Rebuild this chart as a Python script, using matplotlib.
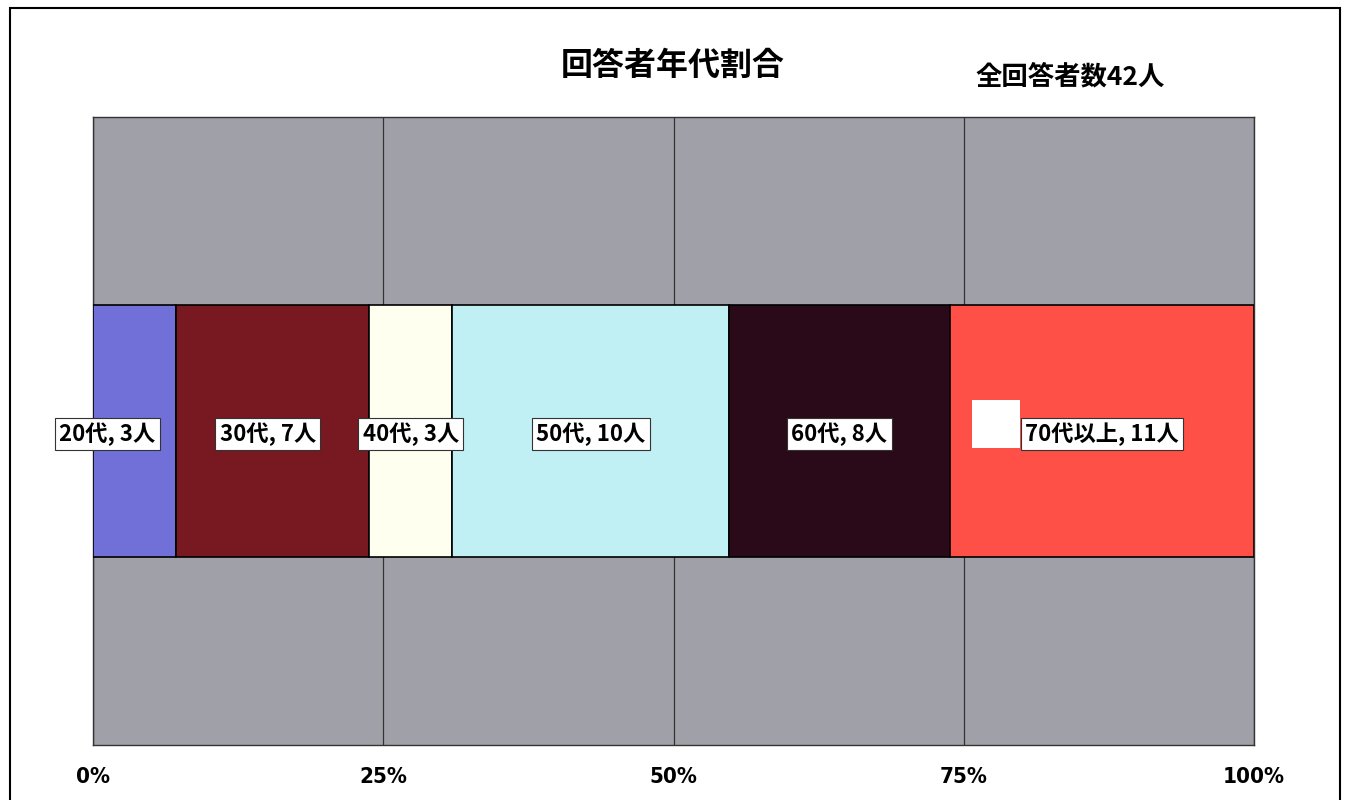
import matplotlib.pyplot as plt
from matplotlib.patches import Rectangle
from matplotlib.ticker import FuncFormatter

plt.rcParams['font.family'] = ['Noto Sans CJK JP', 'DejaVu Sans']

# data
ages = ['20代', '30代', '40代', '50代', '60代', '70代以上']
counts = [3, 7, 3, 10, 8, 11]
colors = ['#7070d8', '#781820', '#fffff0', '#c0f0f4', '#2a0a18', '#ff5048']
label_shift = [-27, -5, 0, 0, 0, 0]  # label x-offset in pixels
ticks = [0, 25, 50, 75, 100]
total = sum(counts)

fig = plt.figure(figsize=(13.46, 8), dpi=100)
ax = fig.add_axes([93 / 1346, 1 - 745 / 800, 1161 / 1346, 628 / 800])
ax.set_facecolor('#a0a0a8')

left = 0
for age, n, c, dx in zip(ages, counts, colors, label_shift):
    w = n / total * 100
    ax.barh(0, w, left=left, height=0.4, color=c, edgecolor='black', linewidth=1.2, zorder=3)
    ax.annotate(f'{age}, {n}人', (left + w / 2, 0), xytext=(dx, -3), textcoords='offset pixels',
                ha='center', va='center', fontsize=16, fontweight='bold', zorder=5,
                bbox=dict(boxstyle='square,pad=0.2', fc='white', ec='#333333', lw=0.8))
    left += w

# stray white box next to the last label
ax.add_patch(Rectangle((972 / 1346, 1 - 448 / 800), 48 / 1346, 48 / 800,
                       transform=fig.transFigure, fc='white', ec='none', zorder=6))

ax.set_xlim(0, 100)
ax.set_ylim(-0.5, 0.5)
ax.set_yticks([])
ax.set_xticks(ticks)
ax.xaxis.set_major_formatter(FuncFormatter(lambda v, p: f'{v:.0f}%'))
ax.tick_params(axis='x', length=0, pad=16)
for lab in ax.get_xticklabels():
    lab.set_family('DejaVu Sans')
    lab.set_stretch('condensed')
    lab.set_fontsize(16)
    lab.set_fontweight('bold')
ax.grid(axis='x', color='#333333', linewidth=0.9, zorder=1)
ax.set_axisbelow(True)
for s in ax.spines.values():
    s.set_color('#333333')
    s.set_linewidth(1)

fig.text(0.5, 1 - 66 / 800, '回答者年代割合', ha='center', va='center', fontsize=23, fontweight='bold')
fig.text(1070 / 1346, 1 - 77 / 800, f'全回答者数{total}人', ha='center', va='center', fontsize=19, fontweight='bold')

# outer chart frame
fig.patches.append(Rectangle((10 / 1346, -0.02), 1330 / 1346, 1.02 - 8 / 800,
                             transform=fig.transFigure, fill=False, ec='black', lw=1.5))

fig.savefig('out.png', dpi=100)
